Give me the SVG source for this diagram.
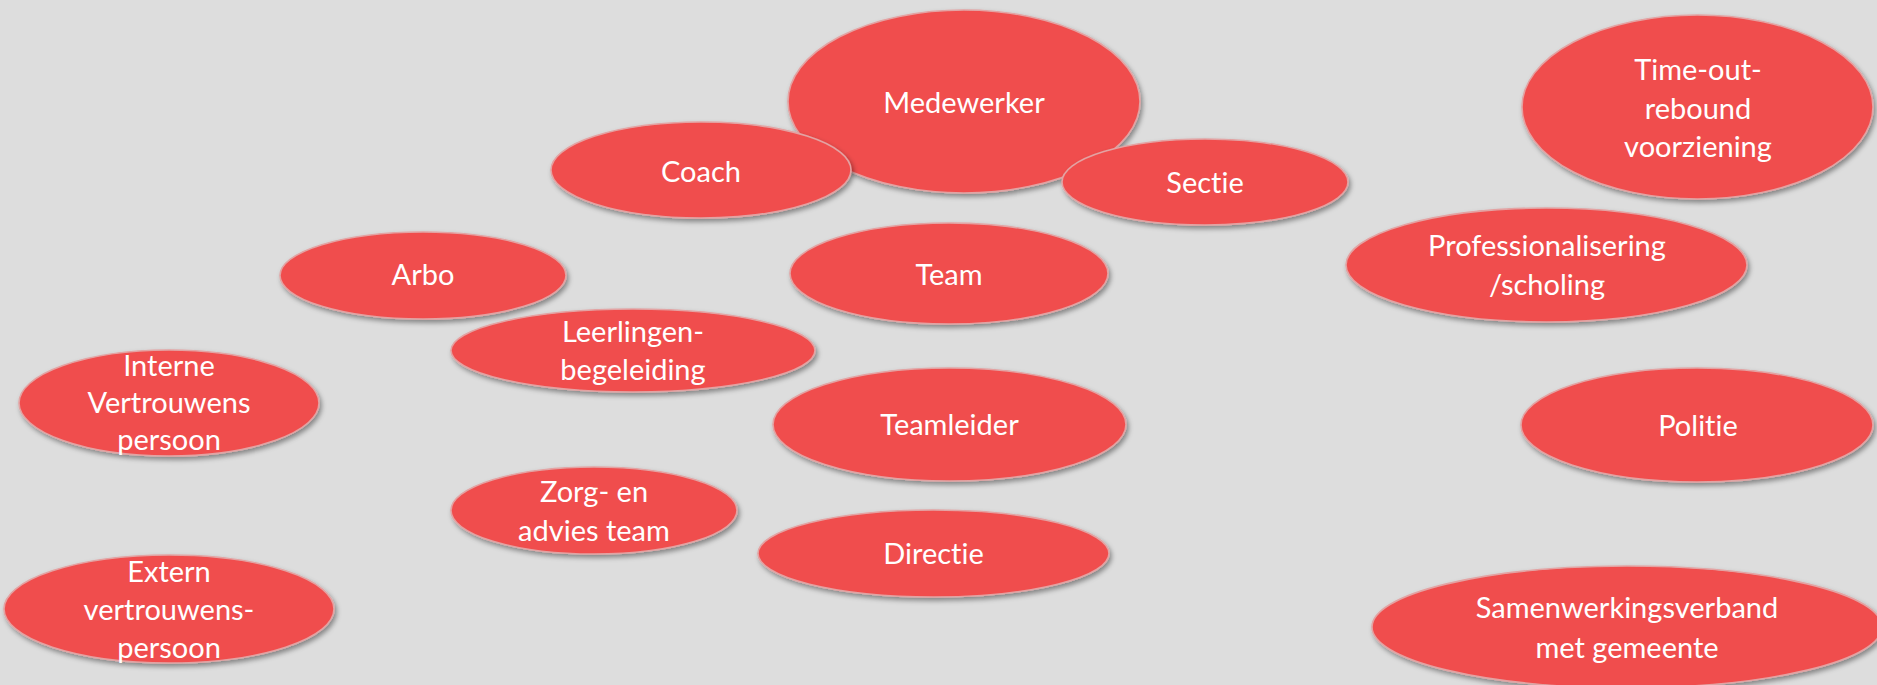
<svg xmlns="http://www.w3.org/2000/svg" width="1877" height="685" viewBox="0 0 1877 685">
  <defs>
    <filter id="sh" x="-10%" y="-10%" width="120%" height="130%">
      <feDropShadow dx="2" dy="3" stdDeviation="2.5" flood-color="#000" flood-opacity="0.4"/>
    </filter>
    <style>
      .n { fill: #F04E4E; stroke: #E3A3A3; stroke-width: 1.6; filter: url(#sh); }
      .t { fill: #FFFFFF; font-family: Lato, "Open Sans", "Liberation Sans", sans-serif; font-size: 29px; text-anchor: middle; font-variant-ligatures: none; font-feature-settings: "liga" 0, "clig" 0; }
    </style>
  </defs>
  <rect width="1877" height="685" fill="#DDDDDD"/>
  <g id="connectors"/>
  <g id="medewerker">
    <ellipse class="n" cx="964" cy="101.5" rx="176" ry="91.5"/>
    <text class="t" x="964" y="113">Medewerker</text>
  </g>
  <g id="coach">
    <ellipse class="n" cx="701" cy="170" rx="150" ry="48"/>
    <text class="t" x="701" y="182">Coach</text>
  </g>
  <g id="sectie">
    <ellipse class="n" cx="1205" cy="182" rx="143" ry="43"/>
    <text class="t" x="1205" y="193">Sectie</text>
  </g>
  <g id="arbo">
    <ellipse class="n" cx="423" cy="275.5" rx="143" ry="43.5"/>
    <text class="t" x="423" y="285">Arbo</text>
  </g>
  <g id="team">
    <ellipse class="n" cx="949" cy="273.5" rx="159" ry="50.5"/>
    <text class="t" x="949" y="285">Team</text>
  </g>
  <g id="leerlingenbegeleiding">
    <ellipse class="n" cx="633" cy="350.5" rx="182" ry="41.5"/>
    <text class="t" x="633" y="342">Leerlingen-</text>
    <text class="t" x="633" y="380">begeleiding</text>
  </g>
  <g id="interne-vertrouwenspersoon">
    <ellipse class="n" cx="169" cy="403" rx="150" ry="53"/>
    <text class="t" x="169" y="376">Interne</text>
    <text class="t" x="169" y="413">Vertrouwens</text>
    <text class="t" x="169" y="450">persoon</text>
  </g>
  <g id="teamleider">
    <ellipse class="n" cx="949.5" cy="424.5" rx="176.5" ry="56.5"/>
    <text class="t" x="949.5" y="435">Teamleider</text>
  </g>
  <g id="zorg-advies-team">
    <ellipse class="n" cx="594" cy="510.5" rx="143" ry="43.5"/>
    <text class="t" x="594" y="502">Zorg- en</text>
    <text class="t" x="594" y="541">advies team</text>
  </g>
  <g id="directie">
    <ellipse class="n" cx="933.5" cy="553.5" rx="175.5" ry="43.5"/>
    <text class="t" x="933.5" y="564">Directie</text>
  </g>
  <g id="extern-vertrouwenspersoon">
    <ellipse class="n" cx="169" cy="609" rx="165" ry="54"/>
    <text class="t" x="169" y="582">Extern</text>
    <text class="t" x="169" y="620">vertrouwens-</text>
    <text class="t" x="169" y="658">persoon</text>
  </g>
  <g id="time-out">
    <ellipse class="n" cx="1697.5" cy="107" rx="175.5" ry="92"/>
    <text class="t" x="1698" y="80">Time-out-</text>
    <text class="t" x="1698" y="119">rebound</text>
    <text class="t" x="1698" y="157">voorziening</text>
  </g>
  <g id="professionalisering">
    <ellipse class="n" cx="1546.5" cy="265" rx="200.5" ry="57"/>
    <text class="t" x="1547" y="256">Professionalisering</text>
    <text class="t" x="1547" y="295">/scholing</text>
  </g>
  <g id="politie">
    <ellipse class="n" cx="1697" cy="425" rx="176" ry="57"/>
    <text class="t" x="1698" y="436">Politie</text>
  </g>
  <g id="samenwerkingsverband">
    <ellipse class="n" cx="1627" cy="627" rx="255" ry="61"/>
    <text class="t" x="1627" y="618">Samenwerkingsverband</text>
    <text class="t" x="1627" y="658">met gemeente</text>
  </g>
</svg>
